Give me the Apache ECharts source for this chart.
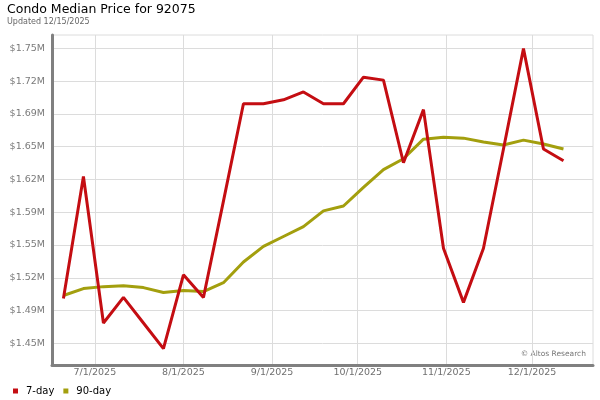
<!DOCTYPE html>
<html>
<head>
<meta charset="utf-8">
<script src="https://cdn.jsdelivr.net/npm/echarts@6/dist/echarts.min.js"></script>
<style>
  html, body { margin: 0; padding: 0; background: #fff; }
  #chart { width: 600px; height: 400px; }
</style>
</head>
<body>
<div id="chart"></div>
<script>
// weekly dates
const dates = [
  '2025-06-20', '2025-06-27', '2025-07-04', '2025-07-11', '2025-07-18', '2025-07-25',
  '2025-08-01', '2025-08-08', '2025-08-15', '2025-08-22', '2025-08-29', '2025-09-05',
  '2025-09-12', '2025-09-19', '2025-09-26', '2025-10-03', '2025-10-10', '2025-10-17',
  '2025-10-24', '2025-10-31', '2025-11-07', '2025-11-14', '2025-11-21', '2025-11-28',
  '2025-12-05', '2025-12-12'
];
const price7day = [
  1499000, 1623000, 1474000, 1500000, 1474000, 1448000,
  1523000, 1500000, 1598000, 1697000, 1697000, 1701000,
  1709000, 1697000, 1697000, 1724000, 1721000, 1637000,
  1691000, 1550000, 1495000, 1550000, 1651000, 1753000,
  1651000, 1639000
];
const price90day = [
  1502000, 1509000, 1511000, 1512000, 1510000, 1505000,
  1507000, 1506000, 1515000, 1536000, 1552000, 1562000,
  1572000, 1588000, 1593000, 1612000, 1630000, 1641000,
  1661000, 1663000, 1662000, 1658000, 1655000, 1660000,
  1656000, 1651000
];
// y tick values (labels show 2 decimals)
const yTicks = [1453333, 1486667, 1520000, 1553333, 1586667, 1620000, 1653333, 1686667, 1720000, 1753333];
const monthTicks = ['2025-07-01', '2025-08-01', '2025-09-01', '2025-10-01', '2025-11-01', '2025-12-01'];

const FONT = 'DejaVu Sans';
const ts = d => echarts.time.parse(d).getTime();
const monthTs = monthTicks.map(ts);

const chart = echarts.init(document.getElementById('chart'));

const option = {
  animation: false,
  textStyle: { fontFamily: FONT },
  title: {
    text: 'Condo Median Price for 92075',
    subtext: 'Updated 12/15/2025',
    left: 2,
    top: 3,
    itemGap: 2,
    padding: [0, 5],
    textStyle: { fontFamily: FONT, fontSize: 12.5, fontWeight: 'normal', color: '#000' },
    subtextStyle: { fontFamily: FONT, fontSize: 8, color: '#666' }
  },
  legend: {
    left: 8,
    top: 381,
    icon: 'rect',
    itemWidth: 5,
    itemHeight: 5,
    itemGap: 9,
    textStyle: { fontFamily: FONT, fontSize: 10, color: '#000', padding: [0, 0, 0, 3] },
    data: ['7-day', '90-day']
  },
  grid: {
    left: 52,
    right: 7,
    top: 35,
    bottom: 35,
    show: true,
    borderColor: '#dcdcdc',
    borderWidth: 1
  },
  xAxis: {
    type: 'value',
    min: ts('2025-06-16'),
    max: ts('2025-12-22 08:00:00'),
    axisLine: { show: true, onZero: false, lineStyle: { color: '#808080', width: 3 } },
    axisTick: { show: false, customValues: monthTs },
    splitLine: { show: true, lineStyle: { color: '#dcdcdc', width: 1 } },
    axisLabel: {
      customValues: monthTs,
      fontFamily: FONT,
      fontSize: 9.5,
      color: '#707070',
      margin: 3,
      formatter: function (v) {
        const d = new Date(v);
        return (d.getMonth() + 1) + '/' + d.getDate() + '/' + d.getFullYear();
      }
    }
  },
  yAxis: {
    type: 'value',
    min: 1431300,
    max: 1766900,
    axisLine: { show: true, lineStyle: { color: '#808080', width: 3 } },
    axisTick: { show: false, customValues: yTicks },
    splitLine: { show: true, lineStyle: { color: '#dcdcdc', width: 1 } },
    axisLabel: {
      customValues: yTicks,
      fontFamily: FONT,
      fontSize: 9.5,
      color: '#7a7a7a',
      margin: 7,
      formatter: v => '$' + (v / 1e6).toFixed(2) + 'M'
    }
  },
  graphic: [{
    type: 'text',
    right: 14,
    top: 350,
    style: { text: '\u00A9 Altos Research', font: '7.5px "DejaVu Sans"', fill: '#777' }
  }],
  series: [
    {
      name: '7-day',
      type: 'line',
      z: 3,
      showSymbol: false,
      data: dates.map((d, i) => [ts(d), price7day[i]]),
      itemStyle: { color: '#c40d12' },
      lineStyle: { color: '#c40d12', width: 3 }
    },
    {
      name: '90-day',
      type: 'line',
      z: 2,
      showSymbol: false,
      data: dates.map((d, i) => [ts(d), price90day[i]]),
      itemStyle: { color: '#a39f0e' },
      lineStyle: { color: '#a39f0e', width: 3 }
    }
  ]
};

chart.setOption(option);
window.addEventListener('resize', () => chart.resize());
</script>
</body>
</html>
